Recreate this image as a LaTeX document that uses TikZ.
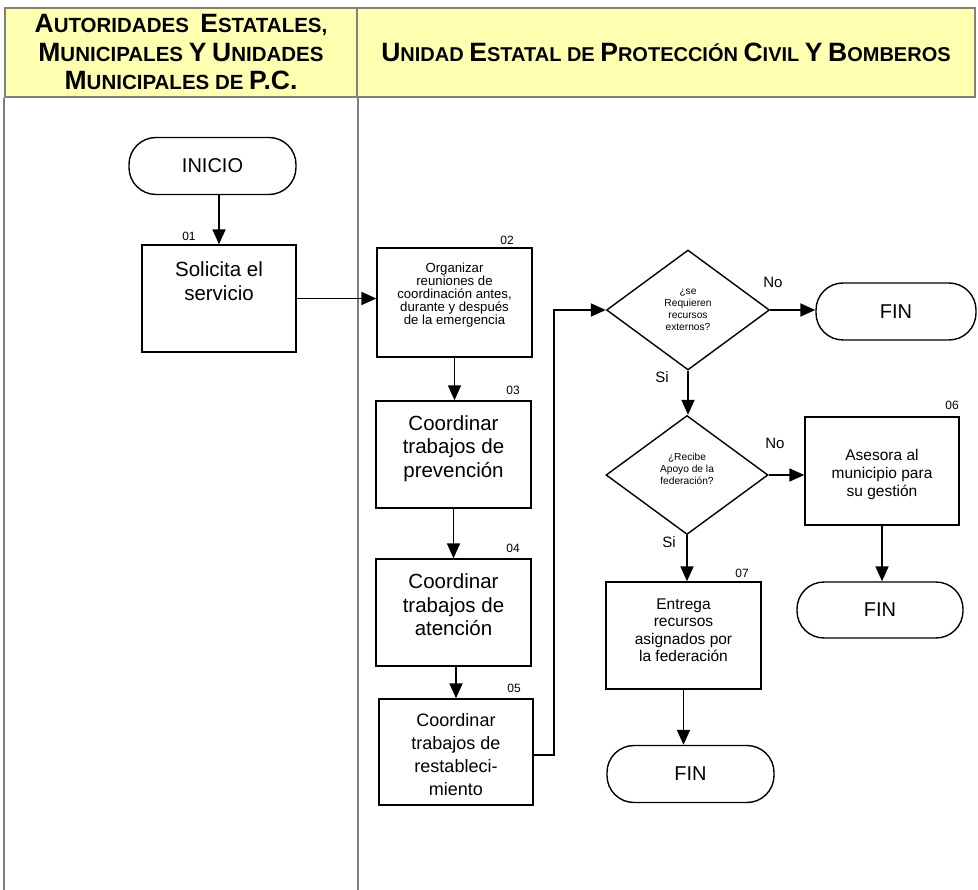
\documentclass[tikz,border=0pt]{standalone}
\usepackage{fontspec}
\setmainfont{Liberation Sans}
\usetikzlibrary{shapes.geometric,arrows.meta}
\definecolor{hdrfill}{HTML}{FFFFB0}
\definecolor{gridgray}{HTML}{808080}
\newcommand\Cp[1]{{\fontsize{26.5}{28.5}\selectfont #1}}
\begin{document}
\begin{tikzpicture}[x=1pt,y=-1pt,
 proc/.style={draw, line width=1.4pt, minimum width=155pt, minimum height=107pt, inner sep=0pt},
 term/.style={draw, line width=1.4pt, rounded corners=27pt, minimum width=167pt, minimum height=57pt, inner sep=0pt, font=\fontsize{20}{24}\selectfont},
 dec/.style={draw, diamond, line width=1.4pt, minimum width=163pt, minimum height=120pt, inner sep=0pt, align=center, font=\fontsize{10.2}{11.8}\selectfont},
 txt/.style={align=center, inner sep=0pt},
 big/.style={txt, font=\fontsize{20.5}{23.5}\selectfont},
 num/.style={inner sep=0pt, font=\fontsize{12}{14}\selectfont},
 yn/.style={inner sep=0pt, font=\fontsize{15}{18}\selectfont},
 flow/.style={line width=1.8pt, -{Triangle[length=15pt,width=13pt]}},
 hdr/.style={draw=gridgray, line width=2pt, fill=hdrfill, inner sep=0pt, align=center, font=\bfseries\fontsize{20.5}{28.5}\selectfont},
]
\useasboundingbox (0,0) rectangle (978,890);

% header
\node[hdr, minimum width=352pt, minimum height=89pt] (h1) at (181,52.5)
  {\Cp{A}UTORIDADES\ \ \Cp{E}STATALES,\\ \Cp{M}UNICIPALES \Cp{Y} \Cp{U}NIDADES\\ \Cp{M}UNICIPALES DE \Cp{P.C.}};
\node[hdr, minimum width=618pt, minimum height=89pt, font=\bfseries\fontsize{20}{28.5}\selectfont] (h2) at (666,52.5)
  {\Cp{U}NIDAD \Cp{E}STATAL DE \Cp{P}ROTECCIÓN \Cp{C}IVIL \Cp{Y} \Cp{B}OMBEROS};
\draw[gridgray, line width=2pt] (h1.south west) -- ++(0,800);
\draw[gridgray, line width=2pt] (h1.south east) -- ++(0,800);

% terminals
\node[term] (ini) at (212.5,166) {INICIO};
\node[term, minimum width=160pt] (fin1) at (896,311.5) {FIN};
\node[term] (fin2) at (690.5,774) {FIN};
\node[term, minimum width=166pt, minimum height=56pt] (fin3) at (880,610) {FIN};

% process boxes
\node[proc, minimum width=154pt, label={[big, name=t01, yshift=17.5pt]center:{Solicita el\\servicio}}] (b01) at (219,298.5) {};
\node[proc, minimum height=109pt, label={[txt, name=t02, yshift=7.5pt, font=\fontsize{13.2}{12.9}\selectfont]center:{Organizar\\reuniones de\\coordinación antes,\\durante y después\\de la emergencia}}] (b02) at (454.5,302.5) {};
\node[proc, label={[big, name=t03, yshift=6pt]center:{Coordinar\\trabajos de\\prevención}}] (b03) at (453.5,454.5) {};
\node[proc, label={[big, name=t04, yshift=7.5pt]center:{Coordinar\\trabajos de\\atención}}] (b04) at (453.5,612.5) {};
\node[proc, minimum width=154pt, minimum height=106pt, label={[txt, name=t05, yshift=-3pt, font=\fontsize{18}{23}\selectfont]center:{Coordinar\\trabajos de\\restableci-\\miento}}] (b05) at (456,752) {};
\node[proc, minimum width=154pt, minimum height=108pt, label={[txt, name=t06, yshift=-3pt, font=\fontsize{15.5}{18}\selectfont]center:{Asesora al\\municipio para\\su gestión}}] (b06) at (882,471) {};
\node[proc, label={[txt, name=t07, yshift=5.5pt, font=\fontsize{15.5}{17.5}\selectfont]center:{Entrega\\recursos\\asignados por\\la federación}}] (b07) at (683.5,635.5) {};

% decisions
\node[dec] (d1) at (688,310) {¿se\\Requieren\\recursos\\externos?};
\node[dec, minimum width=162pt, minimum height=119pt, label={[txt, name=t08, yshift=6pt, font=\fontsize{10.2}{11.8}\selectfont]center:{¿Recibe\\Apoyo de la\\federación?}}] (d2) at (687,475) {};

% step numbers
\node[num] (n01) at (189,236) {01};
\node[num] (n02) at (507,240) {02};
\node[num] (n03) at (513,390) {03};
\node[num] (n04) at (513,548) {04};
\node[num] (n05) at (514,688) {05};
\node[num] (n06) at (952,405) {06};
\node[num] (n07) at (742,573) {07};

% yes/no labels
\node[yn] (no1) at (773,282) {No};
\node[yn] (si1) at (662,377) {Si};
\node[yn] (no2) at (775,443) {No};
\node[yn] (si2) at (669,542) {Si};

% connectors
\draw[flow] (ini.south -| b01.north) -- (b01.north);
\draw[flow] (b01.east) -- (b01.east -| b02.west);
\draw[flow] (b02.south) -- (b02.south |- b03.north);
\draw[flow] (b03.south) -- (b03.south |- b04.north);
\draw[flow] (b05.north |- b04.south) -- (b05.north);
\draw[flow] ([yshift=-3pt]b05.east) -- ++(20,0) |- (d1.west);
\draw[flow] (d1.east) -- (d1.east -| fin1.west);
\draw[flow] (d1.south) -- (d1.south |- d2.north);
\draw[flow] (d2.east) -- (d2.east -| b06.west);
\draw[flow] (b06.south) -- (b06.south |- fin3.north);
\draw[flow] (d2.south) -- (d2.south |- b07.north);
\draw[flow] (b07.south) -- (b07.south |- fin2.north);
\end{tikzpicture}
\end{document}
